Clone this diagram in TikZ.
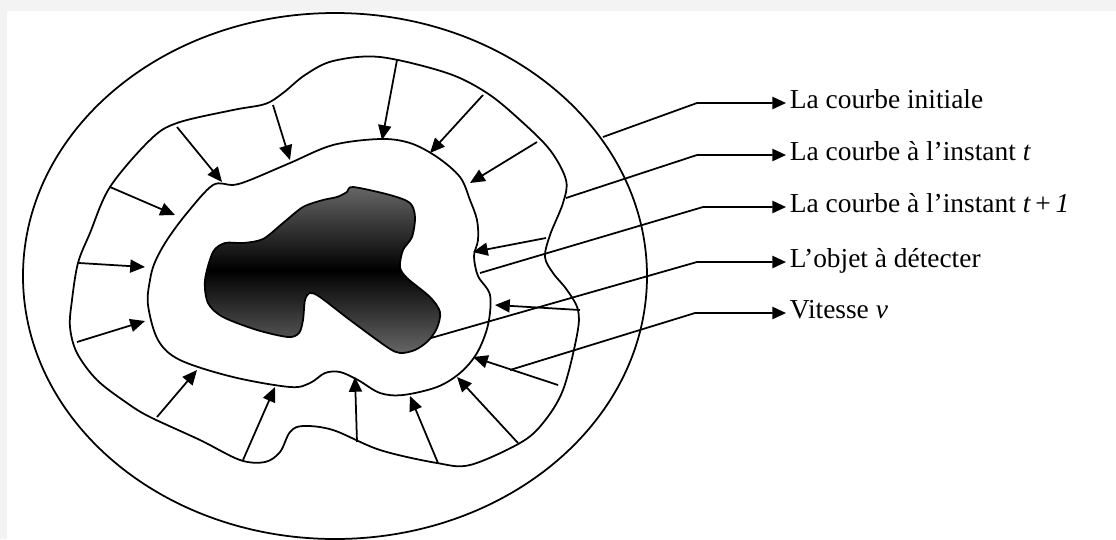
\documentclass[tikz,border=0pt]{standalone}
\usepackage{fontspec}
\setmainfont{Liberation Serif}
\usetikzlibrary{arrows.meta}
\definecolor{framegrey}{RGB}{243,243,243}
\tikzset{
  curve/.style={line width=1pt, draw=black},
  vel/.style={line width=1pt, -{Triangle[length=8.4pt,width=7.4pt]}},
  lead/.style={line width=1pt, -{Triangle[length=7.8pt,width=7pt]}},
  lbl/.style={anchor=west, inner xsep=2pt, inner ysep=0pt, text height=0.66em, text depth=0pt,
              font=\fontsize{15.6}{18}\selectfont}
}
\begin{document}
\begin{tikzpicture}[x=0.02cm,y=-0.02cm]
\useasboundingbox (0,0) rectangle (1116,539);
\fill[white] (0,0) rectangle (1116,539);
\fill[framegrey] (0,0) rectangle (1116,11);
\fill[framegrey] (0,0) rectangle (7,539);

% initial curve
\draw[curve] (335,276) ellipse [x radius=312, y radius=263];

% curve at instant t
\draw[curve] plot[smooth cycle, tension=0.55] coordinates {
 (72,300) (78,263) (90,233) (110,187) (150,140) (177,123) (233,110) (265,104)
 (283,93) (305,75) (333,61) (380,57) (447,73) (487,93) (520,120) (550,150)
 (566,180) (563,203) (550,235) (545,257) (553,273) (567,290) (578,310)
 (577,335) (563,390) (543,423) (520,443) (470,465) (437,463) (380,450)
 (333,430) (303,426) (290,432) (280,452) (265,462) (240,460) (200,440)
 (150,417) (127,403) (97,380) (77,353) (70,327)};

% curve at instant t+1
\draw[curve] plot[smooth cycle, tension=0.55] coordinates {
 (150,280) (155,262) (167,240) (187,213) (213,185) (233,185) (250,180)
 (290,163) (333,145) (380,139) (410,143) (437,157) (460,177) (470,200)
 (477,220) (478,240) (474,256) (478,276) (490,295) (488,325) (477,353)
 (460,373) (437,387) (403,395) (380,393) (358,380) (340,372) (325,373)
 (310,383) (290,387) (233,377) (180,360) (158,340) (148,305)};

% object
\shadedraw[line width=1pt, draw=black, top color=black!60, bottom color=black!60, middle color=black]
 plot[smooth cycle, tension=0.5] coordinates {
 (353,187) (390,195) (410,203) (415,217) (412,237) (403,250) (400,267) (407,278)
 (430,297) (440,312) (437,328) (428,341) (415,350) (400,353) (387,347) (350,320)
 (320,297) (310,293) (305,300) (303,320) (299,333) (288,337) (257,330) (223,317)
 (208,303) (205,280) (213,252) (225,243) (243,243) (263,239) (283,223) (303,207)
 (323,200) (337,197) (347,192)};

% velocity arrows
\draw[vel] (273,105) -- (290,160);
\draw[vel] (177,127) -- (222,182);
\draw[vel] (110,187) -- (175,215);
\draw[vel] (79,263) -- (145,267);
\draw[vel] (397,60) -- (382,140);
\draw[vel] (483,95) -- (430,153);
\draw[vel] (537,142) -- (470,183);
\draw[vel] (546,238) -- (473,252);
\draw[vel] (77,342) -- (145,321);
\draw[vel] (157,417) -- (197,370);
\draw[vel] (243,460) -- (275,387);
\draw[vel] (357,442) -- (355,377);
\draw[vel] (580,310) -- (495,305);
\draw[vel] (558,385) -- (473,357);
\draw[vel] (518,443) -- (457,377);
\draw[vel] (438,463) -- (410,396);

% labels
\node[lbl] (l1) at (786,103) {La courbe initiale};
\node[lbl] (l2) at (786,155) {La courbe à l’instant \textit{t}};
\node[lbl] (l3) at (786,207) {La courbe à l’instant \textit{t}\,+\,\textit{1}};
\node[lbl] (l4) at (786,262) {L’objet à détecter};
\node[lbl] (l5) at (786,313) {Vitesse \textit{v}};

% leader points
\coordinate (c1) at (603,137);
\coordinate (c2) at (566,198);
\coordinate (c3) at (480,273);
\coordinate (c4) at (431,338);
\coordinate (c5) at (510,370);
\coordinate (k1) at (697,103);
\coordinate (k2) at (697,155);
\coordinate (k3) at (703,207);
\coordinate (k4) at (697,262);
\coordinate (k5) at (695,313);

\draw[lead] (c1) -- (k1) -- (l1.west);
\draw[lead] (c2) -- (k2) -- (l2.west);
\draw[lead] (c3) -- (k3) -- (l3.west);
\draw[lead] (c4) -- (k4) -- (l4.west);
\draw[lead] (c5) -- (k5) -- (l5.west);
\end{tikzpicture}
\end{document}
